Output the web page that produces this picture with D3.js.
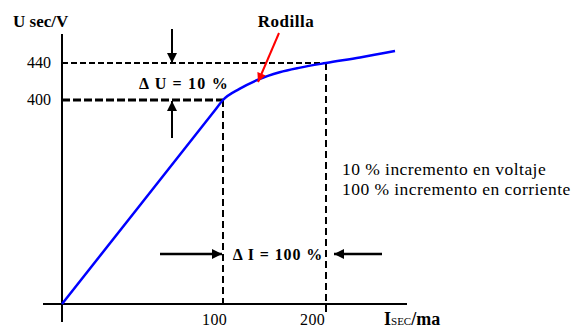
<!DOCTYPE html>
<html>
<head>
    <script src="https://d3js.org/d3.v7.min.js"></script>
    <style>
        body { margin: 0; background: white; }
        text { font-family: "Liberation Serif", "Times New Roman", serif; }
    </style>
</head>
<body>
    <div id="chart"></div>
    <script>
        // excitation curve: secondary current (ma) vs secondary voltage (V)
        var currentVals = [0, 95, 100, 116, 134, 155, 175, 200, 233, 267];
        var voltageVals = [0, 380, 400, 412, 422, 430, 435, 440, 446, 453];
        var xTicks = [100, 200];
        var yTicks = [400, 440];
        var knee = {i: 100, u: 400};
        var sat = {i: 200, u: 440};
        var notes = ["10 % incremento en voltaje", "100 % incremento en corriente"];

        var width = 573, height = 329;

        var svg = d3.select("#chart")
            .append("svg")
            .attr("width", width)
            .attr("height", height);

        // schematic axes, not to scale
        var x = d3.scaleLinear().domain([0, 100, 200]).range([62, 223, 326]);
        var y = d3.scaleLinear().domain([0, 400, 440]).range([304, 100, 63]);

        var defs = svg.append("defs");
        defs.append("marker")
            .attr("id", "blackHead")
            .attr("viewBox", "0 0 10 10")
            .attr("refX", 10).attr("refY", 5)
            .attr("markerWidth", 10).attr("markerHeight", 10)
            .attr("markerUnits", "userSpaceOnUse")
            .attr("orient", "auto")
            .append("path")
            .attr("d", "M0,0 L10,5 L0,10 Z")
            .attr("fill", "black");
        defs.append("marker")
            .attr("id", "redHead")
            .attr("viewBox", "0 0 10 10")
            .attr("refX", 10).attr("refY", 5)
            .attr("markerWidth", 10).attr("markerHeight", 9)
            .attr("markerUnits", "userSpaceOnUse")
            .attr("orient", "auto")
            .append("path")
            .attr("d", "M0,0 L10,5 L0,10 Z")
            .attr("fill", "red");

        // axes
        svg.append("line")
            .attr("x1", x(0)).attr("x2", x(0))
            .attr("y1", 34).attr("y2", 322)
            .attr("stroke", "black").attr("stroke-width", 2);
        svg.append("line")
            .attr("x1", 43).attr("x2", 407)
            .attr("y1", y(0)).attr("y2", y(0))
            .attr("stroke", "black").attr("stroke-width", 2);

        // dashed guides
        svg.append("line")
            .attr("x1", x(0)).attr("x2", x(sat.i))
            .attr("y1", y(sat.u)).attr("y2", y(sat.u))
            .attr("stroke", "black").attr("stroke-width", 2)
            .attr("stroke-dasharray", "6,3");
        svg.append("line")
            .attr("x1", x(0)).attr("x2", x(knee.i))
            .attr("y1", y(knee.u)).attr("y2", y(knee.u))
            .attr("stroke", "black").attr("stroke-width", 3)
            .attr("stroke-dasharray", "8,3");
        svg.append("line")
            .attr("x1", x(knee.i)).attr("x2", x(knee.i))
            .attr("y1", y(knee.u)).attr("y2", y(0))
            .attr("stroke", "black").attr("stroke-width", 2)
            .attr("stroke-dasharray", "7,4");
        svg.append("line")
            .attr("x1", x(sat.i)).attr("x2", x(sat.i))
            .attr("y1", y(sat.u)).attr("y2", y(0) + 8)
            .attr("stroke", "black").attr("stroke-width", 2)
            .attr("stroke-dasharray", "7,4");

        // curve
        var pts = currentVals.map(function(d, i) { return [d, voltageVals[i]]; });
        var line = d3.line()
            .x(function(d) { return x(d[0]); })
            .y(function(d) { return y(d[1]); })
            .curve(d3.curveMonotoneX);
        svg.append("path")
            .attr("d", line(pts))
            .attr("fill", "none")
            .attr("stroke", "#0000ff")
            .attr("stroke-width", 2.5);

        // tick labels
        svg.selectAll(".ylab")
            .data(yTicks)
            .enter()
            .append("text")
            .attr("x", 51)
            .attr("y", function(d) { return y(d) + 5; })
            .attr("text-anchor", "end")
            .attr("font-size", "16px")
            .text(function(d) { return d; });
        svg.selectAll(".xlab")
            .data(xTicks)
            .enter()
            .append("text")
            .attr("x", function(d, i) { return x(d) + (i == 0 ? 4 : -1); })
            .attr("y", 325)
            .attr("text-anchor", "end")
            .attr("font-size", "16px")
            .attr("letter-spacing", "0.3px")
            .text(function(d) { return d; });

        // axis titles
        svg.append("text")
            .attr("x", 13).attr("y", 27)
            .attr("font-size", "17px").attr("font-weight", "bold")
            .text("U sec/V");
        var xt = svg.append("text")
            .attr("x", 384).attr("y", 325)
            .attr("font-size", "18px").attr("font-weight", "bold");
        xt.append("tspan").text("I");
        xt.append("tspan").attr("font-size", "11px").attr("font-weight", "normal").text("SEC");
        xt.append("tspan").text("/ma");

        // delta U arrows
        var ax = 172;
        svg.append("line")
            .attr("x1", ax).attr("x2", ax)
            .attr("y1", 29).attr("y2", y(sat.u))
            .attr("stroke", "black").attr("stroke-width", 2)
            .attr("marker-end", "url(#blackHead)");
        svg.append("line")
            .attr("x1", ax).attr("x2", ax)
            .attr("y1", 138).attr("y2", y(knee.u) + 1)
            .attr("stroke", "black").attr("stroke-width", 2)
            .attr("marker-end", "url(#blackHead)");
        svg.append("text")
            .attr("x", 184).attr("y", 89)
            .attr("text-anchor", "middle")
            .attr("font-size", "16px").attr("font-weight", "bold")
            .attr("letter-spacing", "1.2px")
            .text("\u0394 U = 10 %");

        // delta I arrows
        svg.append("line")
            .attr("x1", 160).attr("x2", x(knee.i) - 1)
            .attr("y1", 254).attr("y2", 254)
            .attr("stroke", "black").attr("stroke-width", 2.5)
            .attr("marker-end", "url(#blackHead)");
        svg.append("line")
            .attr("x1", 382).attr("x2", x(sat.i) + 8)
            .attr("y1", 254).attr("y2", 254)
            .attr("stroke", "black").attr("stroke-width", 2.5)
            .attr("marker-end", "url(#blackHead)");
        svg.append("text")
            .attr("x", 278).attr("y", 260)
            .attr("text-anchor", "middle")
            .attr("font-size", "16px").attr("font-weight", "bold")
            .attr("letter-spacing", "0.9px")
            .text("\u0394 I = 100 %");

        // Rodilla
        svg.append("text")
            .attr("x", 286).attr("y", 27)
            .attr("text-anchor", "middle")
            .attr("font-size", "17px").attr("font-weight", "bold")
            .attr("letter-spacing", "0.5px")
            .text("Rodilla");
        svg.append("line")
            .attr("x1", 279).attr("y1", 33)
            .attr("x2", 258).attr("y2", 82)
            .attr("stroke", "red").attr("stroke-width", 2)
            .attr("marker-end", "url(#redHead)");

        // notes
        svg.selectAll(".note")
            .data(notes)
            .enter()
            .append("text")
            .attr("x", 342)
            .attr("y", function(d, i) { return 175 + i * 20; })
            .attr("font-size", "17.5px")
            .attr("letter-spacing", "0.45px")
            .text(function(d) { return d; });
    </script>
</body>
</html>
